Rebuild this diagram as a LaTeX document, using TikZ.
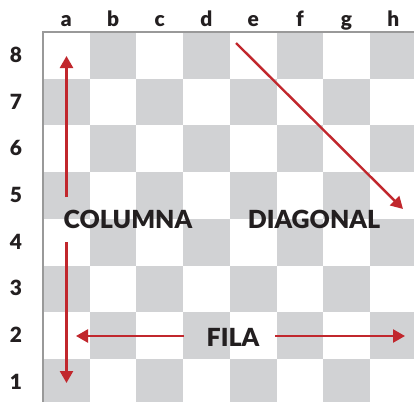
\documentclass[tikz,border=0pt]{standalone}
\usepackage{fontspec}
\setmainfont{Lato}[BoldFont={Lato Black}]
\usetikzlibrary{arrows.meta}
\definecolor{sq}{HTML}{D1D2D4}
\definecolor{ink}{HTML}{231F20}
\definecolor{arr}{HTML}{C1272D}
\tikzset{
  lbl/.style={text=ink,font=\fontsize{21}{21}\selectfont\bfseries,inner sep=0pt},
  word/.style={text=ink,font=\fontsize{25}{25}\selectfont\bfseries,inner sep=0pt},
  redarrow/.style={draw=arr,line width=2.4bp,-{Triangle[width=13bp,length=12bp]}},
}
\begin{document}
\begin{tikzpicture}[x=1bp,y=-1bp]
\useasboundingbox (0,0) rectangle (414,402);
\fill[white] (0,0) rectangle (414,402);
\begin{scope}
\clip (43,32) rectangle (414,402);
\foreach \i in {1,...,8}{
  \foreach \j in {1,...,8}{
    \pgfmathtruncatemacro{\sqpar}{mod(\i+\j,2)}
    \ifnum\sqpar=0
      \fill[sq] ({43+(\i-1)*46.7},{32+(8-\j)*46.7}) rectangle +(46.7,46.7);
    \fi
  }
}
\end{scope}
\draw[gray!80,line width=1.2bp] (414,32) -- (43,32) -- (43,402);
\foreach \c [count=\i] in {a,b,c,d,e,f,g,h}{
  \node[lbl,anchor=base] (col\c) at ({43+(\i-0.5)*46.7},26) {\c};
}
\foreach \r in {1,...,8}{
  \node[lbl,anchor=base] (row\r) at (16,{32+(8.5-\r)*46.7+7}) {\r};
}
\node[word] (columna) at (128,219) {COLUMNA};
\node[word] (diagonal) at (314,219) {DIAGONAL};
\node[word] (fila) at (233,337) {FILA};
\coordinate (cu) at (66.5,197);
\coordinate (cut) at (66.5,56);
\coordinate (cd) at (66.5,242);
\coordinate (cdt) at (66.5,383);
\coordinate (fl) at (184,336);
\coordinate (flt) at (76,336);
\coordinate (fr) at (275,336);
\coordinate (frt) at (405,336);
\coordinate (ds) at (236,43);
\coordinate (dt) at (403,209);
\draw[redarrow] (cu) -- (cut);
\draw[redarrow] (cd) -- (cdt);
\draw[redarrow] (fl) -- (flt);
\draw[redarrow] (fr) -- (frt);
\draw[redarrow] (ds) -- (dt);
\end{tikzpicture}
\end{document}
